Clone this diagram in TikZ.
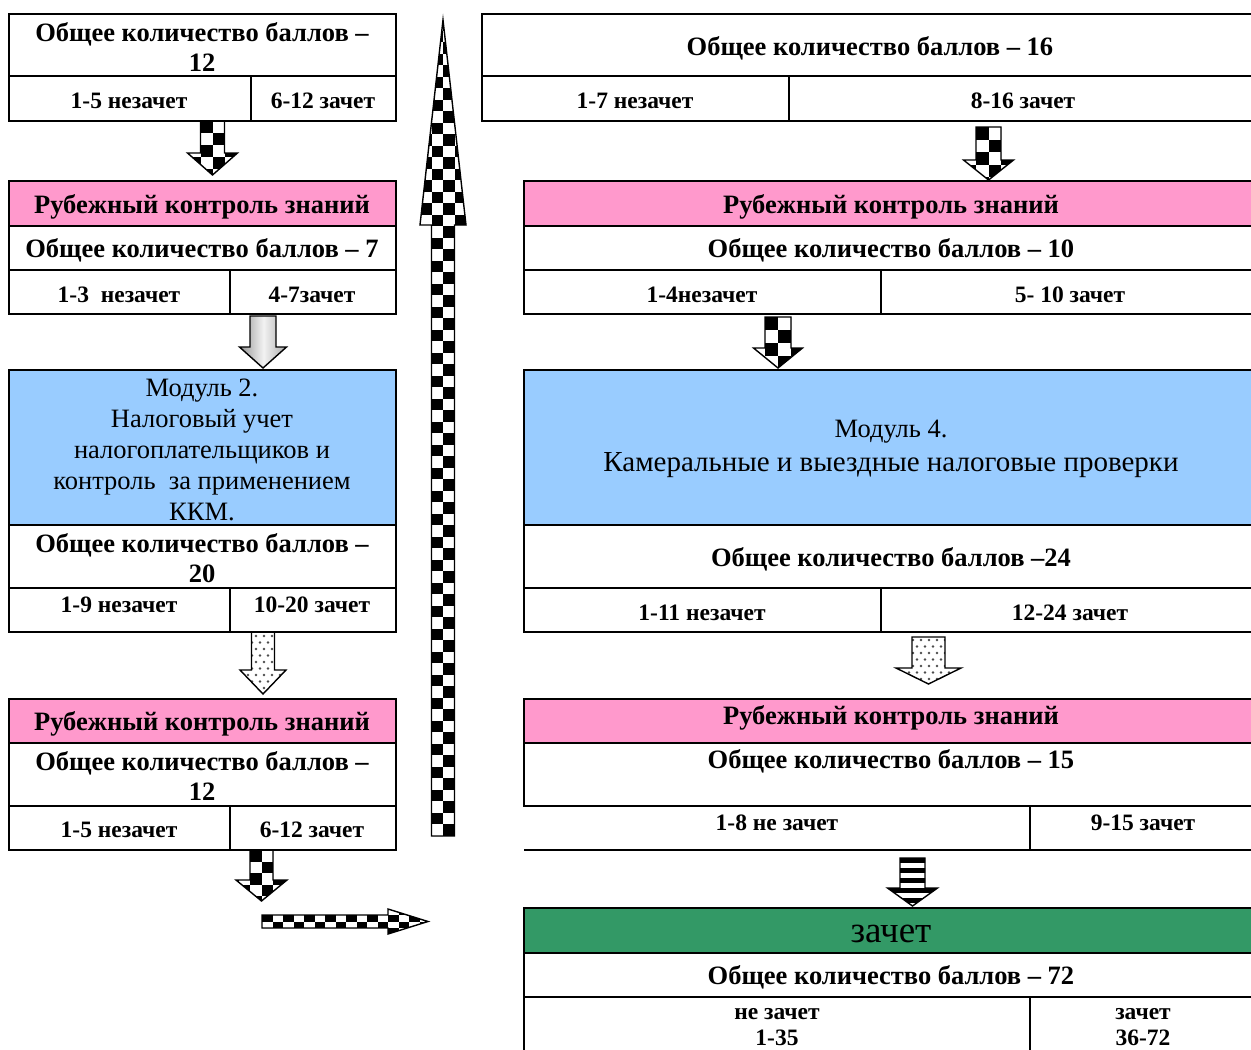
\documentclass[tikz,border=0pt]{standalone}
\usepackage{fontspec}
\setmainfont{Liberation Serif}
\begin{document}
\begin{tikzpicture}[x=1pt,y=-1pt,
  box/.style={draw,line width=1.6pt,inner sep=0pt,outer sep=0pt},
  pinkbox/.style={box,fill=pinkc},
  bluebox/.style={box,fill=bluec},
  greenbox/.style={box,fill=greenc},
  bt/.style={font=\bfseries\fontsize{26.5}{30}\selectfont,align=center,inner sep=0pt,yshift=-1.5pt},
  st/.style={font=\bfseries\fontsize{23.5}{26}\selectfont,align=center,inner sep=0pt,yshift=-1pt},
  mt/.style={font=\fontsize{26.5}{31}\selectfont,align=center,inner sep=0pt,yshift=-1.5pt},
  arrowline/.style={draw=black,line width=1.4pt,line join=miter},
  dn/.style n args={6}{insert path={(#1-#5,#2) -- (#1+#5,#2) -- (#1+#5,#3) -- (#1+#6,#3) -- (#1,#4) -- (#1-#6,#3) -- (#1-#5,#3) -- cycle}}
]
\definecolor{pinkc}{HTML}{FF99CC}
\definecolor{bluec}{HTML}{99CCFF}
\definecolor{greenc}{HTML}{339966}
\newcommand\cell[6]{\node[#6,minimum width={#4-#2},minimum height={#5-#3}] (#1) at ({(#2+#4)/2},{(#3+#5)/2}) {};}
\newcommand\checker[6]{\foreach \i in {0,...,#3}{\foreach \j in {0,...,#4}{\pgfmathtruncatemacro\ckp{mod(\i+\j,2)}\ifnum\ckp=0 \fill[black] ({#1+\i*#5},{#2+\j*#6}) rectangle ++(#5,#6);\fi}}}
\useasboundingbox (0,0) rectangle (1251,1050);
\clip (0,0) rectangle (1251,1050);

% ---------- left column ----------
\cell{L1a}{9}{14}{396}{76}{box}
\cell{L1b}{9}{76}{251}{121}{box}
\cell{L1c}{251}{76}{396}{121}{box}
\node[bt] (t1) at (202,46) {Общее количество баллов –\\12};
\node[st] (t2) at (129,100) {1-5 незачет};
\node[st] (t3) at (323,100) {6-12 зачет};

\cell{L2a}{9}{181}{396}{226}{pinkbox}
\cell{L2b}{9}{226}{396}{270}{box}
\cell{L2c}{9}{270}{230}{314}{box}
\cell{L2d}{230}{270}{396}{314}{box}
\node[bt] (t4) at (202,205) {Рубежный контроль знаний};
\node[bt] (t5) at (202,249) {Общее количество баллов – 7};
\node[st] (t6) at (119,294) {1-3\ \ незачет};
\node[st] (t7) at (312,294) {4-7зачет};

\cell{L3a}{9}{370}{396}{525}{bluebox}
\cell{L3b}{9}{525}{396}{588}{box}
\cell{L3c}{9}{588}{230}{632}{box}
\cell{L3d}{230}{588}{396}{632}{box}
\node[mt] (t8) at (202,448) {Модуль 2.\\Налоговый учет\\налогоплательщиков и\\контроль\ \ за применением\\ККМ.};
\node[bt] (t9) at (202,557) {Общее количество баллов –\\20};
\node[st] (t10) at (119,604) {1-9 незачет};
\node[st] (t11) at (312,604) {10-20 зачет};

\cell{L4a}{9}{699}{396}{743}{pinkbox}
\cell{L4b}{9}{743}{396}{806}{box}
\cell{L4c}{9}{806}{230}{850}{box}
\cell{L4d}{230}{806}{396}{850}{box}
\node[bt] (t12) at (202,722) {Рубежный контроль знаний};
\node[bt] (t13) at (202,775) {Общее количество баллов –\\12};
\node[st] (t14) at (119,829) {1-5 незачет};
\node[st] (t15) at (312,829) {6-12 зачет};

% ---------- right column ----------
\cell{R1a}{482}{14}{1260}{76}{box}
\cell{R1b}{482}{76}{789}{121}{box}
\cell{R1c}{789}{76}{1260}{121}{box}
\node[bt] (u1) at (870,47) {Общее количество баллов – 16};
\node[st] (u2) at (635,100) {1-7 незачет};
\node[st] (u3) at (1023,100) {8-16 зачет};

\cell{R2a}{524}{181}{1260}{226}{pinkbox}
\cell{R2b}{524}{226}{1260}{270}{box}
\cell{R2c}{524}{270}{881}{314}{box}
\cell{R2d}{881}{270}{1260}{314}{box}
\node[bt] (u4) at (891,205) {Рубежный контроль знаний};
\node[bt] (u5) at (891,249) {Общее количество баллов – 10};
\node[st] (u6) at (702,294) {1-4незачет};
\node[st] (u7) at (1070,294) {5- 10 зачет};

\cell{R3a}{524}{370}{1260}{525}{bluebox}
\cell{R3b}{524}{525}{1260}{588}{box}
\cell{R3c}{524}{588}{881}{632}{box}
\cell{R3d}{881}{588}{1260}{632}{box}
\node[mt] (u8) at (891,430) {Модуль 4.};
\node[mt,font=\fontsize{29}{34}\selectfont] (u9) at (891,464) {Камеральные и выездные налоговые проверки};
\node[bt] (u10) at (891,558) {Общее количество баллов –24};
\node[st] (u11) at (702,612) {1-11 незачет};
\node[st] (u12) at (1070,612) {12-24 зачет};

\cell{R4a}{524}{699}{1260}{743}{pinkbox}
\cell{R4b}{524}{743}{1260}{806}{box}
\draw[line width=1.6pt] (524,850) -- (1260,850) (1030,806) -- (1030,850);
\node[bt] (u13) at (891,716) {Рубежный контроль знаний};
\node[bt] (u14) at (891,760) {Общее количество баллов – 15};
\node[st] (u15) at (777,822) {1-8 не зачет};
\node[st] (u16) at (1143,822) {9-15 зачет};

\cell{R5a}{524}{908}{1260}{953}{greenbox}
\cell{R5b}{524}{953}{1260}{997}{box}
\cell{R5c}{524}{997}{1030}{1060}{box}
\cell{R5d}{1030}{997}{1260}{1060}{box}
\node[mt,font=\fontsize{37}{40}\selectfont] (u17) at (891,932) {зачет};
\node[bt] (u18) at (891,976) {Общее количество баллов – 72};
\node[st] (u19) at (777,1026) {не зачет\\1-35};
\node[st] (u20) at (1143,1026) {зачет\\36-72};

% ---------- arrows ----------
% checker down arrows
\begin{scope}\clip[dn={212.5}{121}{153}{175}{12}{25}];
\checker{176.5}{121}{6}{5}{12}{12}\end{scope}
\draw[arrowline,dn={212.5}{121}{153}{175}{12}{25}];

\begin{scope}\clip[dn={988.5}{127}{160}{180}{12.5}{25}];
\checker{951}{127}{6}{5}{12.5}{12.5}\end{scope}
\draw[arrowline,dn={988.5}{127}{160}{180}{12.5}{25}];

\begin{scope}\clip[dn={778}{317}{348}{368}{13}{24.5}];
\checker{739}{317}{6}{5}{13}{13}\end{scope}
\draw[arrowline,dn={778}{317}{348}{368}{13}{24.5}];

\begin{scope}\clip[dn={261.5}{850}{880}{901}{11.5}{25.5}];
\checker{227}{850}{6}{5}{11.5}{11.5}\end{scope}
\draw[arrowline,dn={261.5}{850}{880}{901}{11.5}{25.5}];

% gray shaded arrow
\begin{scope}\clip[dn={263}{316}{347}{368}{13}{23.5}];
\shade[left color=gray!85,right color=gray!70,middle color=gray!10] (239,316) rectangle (288,368);\end{scope}
\draw[arrowline,dn={263}{316}{347}{368}{13}{23.5}];

% dotted arrows
\begin{scope}\clip[dn={263}{632}{670}{694}{11.5}{23}];
\foreach \i in {0,...,6}{\foreach \j in {0,...,9}{\fill[black!70] ({240+\i*8+mod(\j,2)*4},{636+\j*6.5}) circle (1.3);}}\end{scope}
\draw[arrowline,dn={263}{632}{670}{694}{11.5}{23}];

\begin{scope}\clip[dn={928.5}{637}{668}{684}{16.5}{32.5}];
\foreach \i in {0,...,9}{\foreach \j in {0,...,8}{\fill[black!70] ({897+\i*8+mod(\j,2)*4},{640+\j*6.5}) circle (1.3);}}\end{scope}
\draw[arrowline,dn={928.5}{637}{668}{684}{16.5}{32.5}];

% striped arrow
\begin{scope}\clip[dn={912.5}{858}{888}{906}{12.5}{25}];
\foreach \j in {0,...,5}{\fill[black] (886,{858+\j*10}) rectangle ++(54,5);}\end{scope}
\draw[arrowline,dn={912.5}{858}{888}{906}{12.5}{25}];

% big up checker arrow
\begin{scope}\clip (431.5,836) -- (454.5,836) -- (454.5,225) -- (466,225) -- (443,20) -- (420,225) -- (431.5,225) -- cycle;
\checker{420}{19}{3}{71}{11.5}{11.5}\end{scope}
\draw[arrowline] (431.5,836) -- (454.5,836) -- (454.5,225) -- (466,225) -- (443,20) -- (420,225) -- (431.5,225) -- cycle;

% horizontal checker arrow
\begin{scope}\clip (262,915) -- (388,915) -- (388,909) -- (428,921.5) -- (388,934) -- (388,928) -- (262,928) -- cycle;
\checker{262}{902}{16}{5}{10.5}{6.5}\end{scope}
\draw[arrowline] (262,915) -- (388,915) -- (388,909) -- (428,921.5) -- (388,934) -- (388,928) -- (262,928) -- cycle;
\end{tikzpicture}
\end{document}
